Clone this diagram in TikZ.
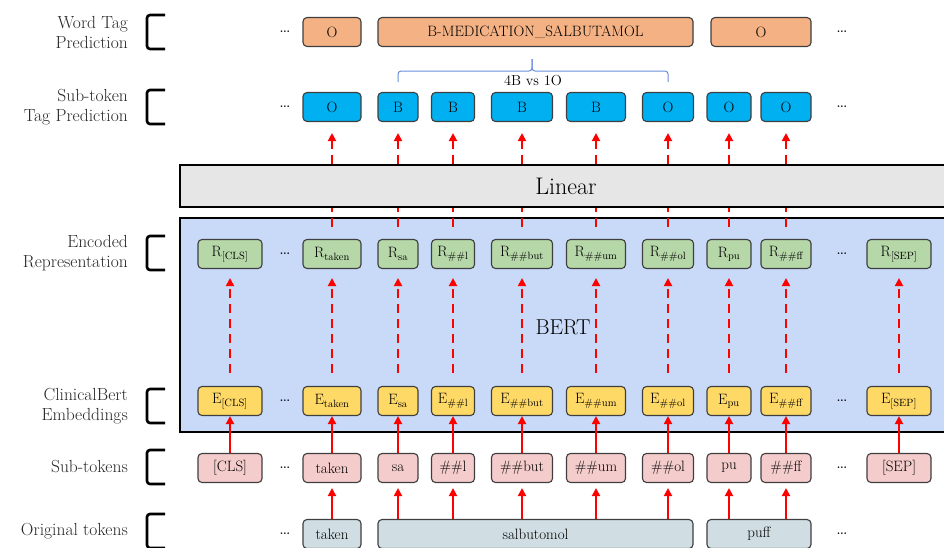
\documentclass[tikz,border=0pt]{standalone}
\usepackage{fontspec}
\usetikzlibrary{arrows.meta,positioning}
\definecolor{WordOrange}{HTML}{F4B183}
\definecolor{TagBlue}{HTML}{00B0F0}
\definecolor{LinGray}{HTML}{E6E6E6}
\definecolor{BertBlue}{HTML}{C9DAF8}
\definecolor{RepGreen}{HTML}{B6D7A8}
\definecolor{EmbYellow}{HTML}{FFD966}
\definecolor{SubPink}{HTML}{F4CCCC}
\definecolor{OrigGray}{HTML}{D0DEE3}
\definecolor{BraceBlue}{HTML}{6A8DDB}
\definecolor{ArrowRed}{HTML}{FF0000}
\definecolor{BoxEdge}{HTML}{3F3F3F}

\begin{document}
\begin{tikzpicture}[x=1pt, y=-1pt,
  pill/.style={rounded corners=4pt, draw=BoxEdge, line width=1.1pt,
               minimum height=29pt, inner sep=2pt, font=\fontsize{15}{17}\selectfont},
  lbl/.style={anchor=east, align=right, inner sep=0pt, text=black!85,
              font=\fontsize{17.5}{20}\selectfont},
  brk/.style={line width=2.6pt, rounded corners=3pt},
  dots/.style={font=\fontsize{20}{22}\selectfont},
  dashln/.style={draw=ArrowRed, line width=2.4pt, dash pattern=on 9pt off 6pt},
  dasharr/.style={dashln, -{Triangle[width=8pt,length=8pt]}},
  solarr/.style={draw=ArrowRed, line width=2.4pt, -{Triangle[width=8pt,length=8pt]}},
  brace/.style={draw=BraceBlue, line width=1pt, rounded corners=3pt}]
  \useasboundingbox (0,0) rectangle (944,547);
  \clip (0,0) rectangle (944,547);
  \node[draw, line width=2.8pt, fill=BertBlue, minimum width=772pt, minimum height=214pt] (bert) at (566,325) {};
  \node[font=\fontsize{21.5}{24}\selectfont] (bertlbl) at (563,327) {BERT};
  \node[draw, line width=2.4pt, fill=LinGray, minimum width=772pt, minimum height=42pt,
        font=\fontsize{24}{26}\selectfont] (lin) at (566,186) {Linear};
  \foreach \i/\x/\w/\s in {1/230/64/{[CLS]}, 2/332/58/taken, 3/398/40/sa, 4/453/43/\#\#l,
      5/522/61/\#\#but, 6/596/59/\#\#um, 7/668/51/\#\#ol, 8/729/44/pu, 9/786/50/\#\#ff,
      10/899/64/{[SEP]}} {
    \node[pill, fill=SubPink, minimum width=\w pt] (s\i) at (\x,468) {\s};
    \node[pill, fill=EmbYellow, minimum width=\w pt] (e\i) at (\x,401) {E\textsubscript{\s}};
    \node[pill, fill=RepGreen, minimum width=\w pt] (r\i) at (\x,254) {R\textsubscript{\s}};
    \draw[solarr] (s\i) -- (e\i);
    \draw[dasharr, shorten <=13pt, shorten >=9pt] (e\i) -- (r\i);
  }
  \foreach \i/\x/\w/\t in {2/332/58/O, 3/398/40/B, 4/453/43/B, 5/522/61/B, 6/596/59/B,
      7/668/51/O, 8/729/44/O, 9/786/50/O} {
    \node[pill, fill=TagBlue, minimum width=\w pt] (t\i) at (\x,107) {\t};
    \draw[dashln, shorten <=12pt] (r\i.north) -- (r\i.north |- lin.south);
    \draw[dasharr, shorten >=11pt] (t\i.south |- lin.north) -- (t\i);
  }
  \node[pill, fill=OrigGray, minimum width=58pt] (o1) at (332,534) {taken};
  \node[pill, fill=OrigGray, minimum width=315pt] (o2) at (535.5,534) {salbutomol};
  \node[pill, fill=OrigGray, minimum width=104pt] (o3) at (759,534) {puff};
  \foreach \i in {2,...,9}
    \draw[solarr, shorten >=5pt] (s\i.south |- o1.north) -- (s\i);
  \node[pill, fill=WordOrange, minimum width=58pt] (w1) at (332,32) {O};
  \node[pill, fill=WordOrange, minimum width=315pt] (w2) at (535.5,32) {B-MEDICATION\_SALBUTAMOL};
  \node[pill, fill=WordOrange, minimum width=100pt] (w3) at (761,32) {O};
  \draw[brace] (t3.north |- 0,82) -- (t3.north |- 0,71) -- (532,71) -- (532,59);
  \draw[brace] (t7.north |- 0,82) -- (t7.north |- 0,71) -- (532,71) -- (532,59);
  \node[font=\fontsize{14.5}{16}\selectfont] (vote) at (533,81) {4B vs 1O};
  \foreach \y [count=\k] in {32,107,254,401,468,534} {
    \node[dots] (dl\k) at (285,\y) {\dots};
    \node[dots] (dr\k) at (842,\y) {\dots};
  }
  \foreach \y/\t [count=\k] in {32/{Word Tag\\Prediction}, 107/{Sub-token\\Tag Prediction},
      253/{Encoded\\Representation}, 406/{ClinicalBert\\Embeddings}, 467/{Sub-tokens},
      531/{Original tokens}} {
    \node[lbl] (lab\k) at (128,\y) {\t};
    \draw[brk] (165,\y-17) -- (147,\y-17) -- (147,\y+17) -- (165,\y+17);
  }
\end{tikzpicture}
\end{document}
